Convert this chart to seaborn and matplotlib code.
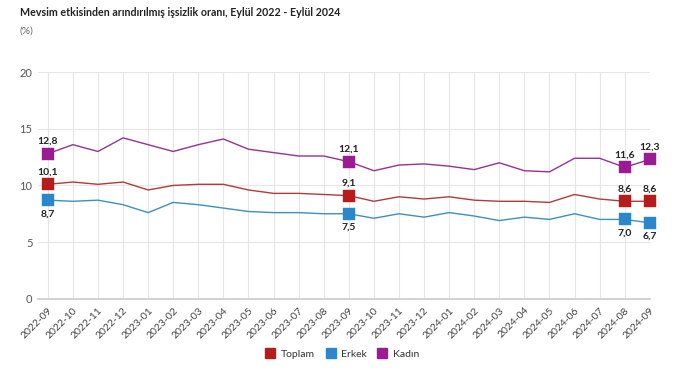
import matplotlib
matplotlib.use("Agg")
import matplotlib.pyplot as plt
import seaborn as sns
import pandas as pd
from matplotlib.lines import Line2D

months = ["2022-09", "2022-10", "2022-11", "2022-12", "2023-01", "2023-02", "2023-03",
          "2023-04", "2023-05", "2023-06", "2023-07", "2023-08", "2023-09", "2023-10",
          "2023-11", "2023-12", "2024-01", "2024-02", "2024-03", "2024-04", "2024-05",
          "2024-06", "2024-07", "2024-08", "2024-09"]
toplam = [10.1, 10.3, 10.1, 10.3, 9.6, 10.0, 10.1, 10.1, 9.6, 9.3, 9.3, 9.2, 9.1,
          8.6, 9.0, 8.8, 9.0, 8.7, 8.6, 8.6, 8.5, 9.2, 8.8, 8.6, 8.6]
erkek = [8.7, 8.6, 8.7, 8.3, 7.6, 8.5, 8.3, 8.0, 7.7, 7.6, 7.6, 7.5, 7.5,
         7.1, 7.5, 7.2, 7.6, 7.3, 6.9, 7.2, 7.0, 7.5, 7.0, 7.0, 6.7]
kadin = [12.8, 13.6, 13.0, 14.2, 13.6, 13.0, 13.6, 14.1, 13.2, 12.9, 12.6, 12.6, 12.1,
         11.3, 11.8, 11.9, 11.7, 11.4, 12.0, 11.3, 11.2, 12.4, 12.4, 11.6, 12.3]
series_names = ["Toplam", "Erkek", "Kadın"]
labeled_idx = [0, 12, 23, 24]
yticks = [0, 5, 10, 15, 20]

colors = {"Toplam": "#b71c1c", "Erkek": "#2a87cc", "Kadın": "#9b1b92"}
line_colors = {"Toplam": "#b23a3a", "Erkek": "#3d8fbf", "Kadın": "#96328f"}

sns.set_theme(style="white")
plt.rcParams['font.family'] = ['Lato', 'DejaVu Sans']

df = pd.DataFrame({"month": months, "Toplam": toplam, "Erkek": erkek, "Kadın": kadin})
df["x"] = range(len(months))
long = df.melt(id_vars=["month", "x"], value_vars=series_names, var_name="seri", value_name="oran")

fig = plt.figure(figsize=(6.79, 3.80), dpi=100)
ax = fig.add_axes([0.056, 0.214, 0.901, 0.596])

sns.lineplot(data=long, x="x", y="oran", hue="seri", palette=line_colors,
             hue_order=series_names, linewidth=1.0, legend=False, ax=ax, zorder=3)

for name in series_names:
    sub = df.iloc[labeled_idx]
    sns.scatterplot(x=sub["x"], y=sub[name], marker="s", s=80, color=colors[name],
                    edgecolor=colors[name], linewidth=0.3, ax=ax, zorder=4, legend=False)
    for i in labeled_idx:
        v = df[name].iloc[i]
        txt = f"{v:.1f}".replace(".", ",")
        if name == "Erkek":
            ax.annotate(txt, (i, v), xytext=(0, -6.5), textcoords="offset points",
                        ha="center", va="top", fontsize=7.5, fontweight="bold", color="#222222",
                        annotation_clip=False)
        else:
            ax.annotate(txt, (i, v), xytext=(0, 5.5), textcoords="offset points",
                        ha="center", va="bottom", fontsize=7.5, fontweight="bold", color="#222222",
                        annotation_clip=False)
for coll in ax.collections:
    coll.set_clip_on(False)

ax.set_xlim(-0.39, 24)
ax.set_ylim(0, 20)
ax.set_yticks(yticks)
ax.set_yticklabels([str(t) for t in yticks], fontsize=8, color="#555555")
ax.set_xticks(range(len(months)))
ax.set_xticklabels(months, rotation=45, ha="right", rotation_mode="anchor",
                   fontsize=7.5, color="#444444")
ax.tick_params(axis="both", length=0, pad=4)
ax.tick_params(axis="x", pad=5)
ax.grid(True, color="#e6e6e6", linewidth=0.8)
ax.set_axisbelow(True)
for s in ["top", "right", "left"]:
    ax.spines[s].set_visible(False)
ax.spines["bottom"].set_color("#cccccc")
ax.set_xlabel("")
ax.set_ylabel("")

handles = [Line2D([0], [0], marker="s", linestyle="none", markersize=7.5,
                  markerfacecolor=colors[n], markeredgecolor=colors[n]) for n in series_names]
fig.legend(handles, series_names, loc="center", bbox_to_anchor=(0.5, 0.068), ncol=3,
           frameon=False, fontsize=7.5, handletextpad=0.0, columnspacing=0.5,
           labelcolor="#333333")

fig.text(20 / 679, 1 - 12 / 380, "Mevsim etkisinden arındırılmış işsizlik oranı, Eylül 2022 - Eylül 2024",
         fontsize=7.7, fontweight="bold", color="#222222", va="center", ha="left")
fig.text(20 / 679, 1 - 31 / 380, "(%)", fontsize=7.5, color="#666666", va="center", ha="left")

fig.savefig("out.png", dpi=100)
